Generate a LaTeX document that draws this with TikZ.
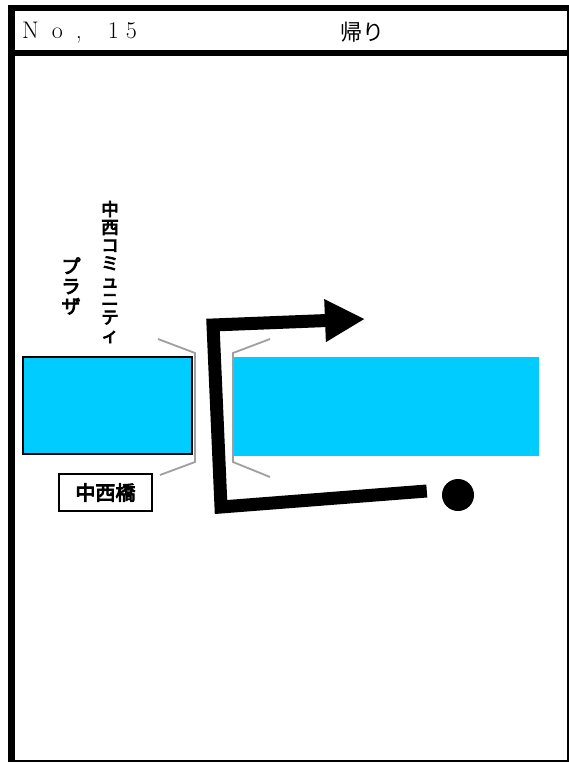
\documentclass[tikz,border=0pt]{standalone}
\usepackage{fontspec}
\usepackage{tikz}
\usetikzlibrary{arrows.meta}
\newfontfamily\cjk{Noto Sans CJK JP}
\newfontfamily\cjkbold[FakeBold=4.5]{Noto Sans CJK JP}
\definecolor{river}{RGB}{0,204,255}
\tikzset{
  frameline/.style={line width=#1},
  riverbox/.style={fill=river},
  bridge/.style={gray!75,line width=1.8pt},
  route/.style={line width=13pt,line join=miter},
  vlabel/.style={font=\cjkbold\fontsize{17.5}{18}\selectfont,align=center,inner sep=0pt}
}

\begin{document}
\begin{tikzpicture}[x=1pt,y=-1pt]
\useasboundingbox (0,0) rectangle (569,763);
\fill[white] (0,0) rectangle (569,763);
% frame
\draw[frameline=6pt] (8,8)--(569,8);
\draw[frameline=6pt] (8,53)--(569,53);
\draw[frameline=7pt] (11.5,5)--(11.5,762);
\draw[frameline=2pt] (568,5)--(568,762);
\draw[frameline=2pt] (8,761)--(569,761);
\node[anchor=base west,inner sep=0pt,font=\fontsize{24}{24}\selectfont] (no) at (22,38)
  {N\hspace{13pt}o\hspace{13pt},\hspace{26pt}1\hspace{7pt}5};
\node[font=\cjk\fontsize{22}{22}\selectfont] (title) at (362,32) {帰り};
% river
\draw[riverbox,line width=1.3pt] (23,357) rectangle (192,454);
\fill[river] (234,357) rectangle (539,456);
% bridge
\draw[bridge] (158,339)--(195,353)--(195,462)--(160,475);
\draw[bridge] (270,339)--(233,353)--(233,462)--(270,477);
% labels
\node[vlabel] (plaza1) at (110,272) {中\\西\\コ\\ミ\\ュ\\ニ\\テ\\ィ};
\node[vlabel,font=\cjkbold\fontsize{19}{20}\selectfont] (plaza2) at (71,286) {プ\\ラ\\ザ};
\node[draw,line width=1.2pt,minimum width=93pt,minimum height=37pt,inner sep=0pt,
  font=\cjkbold\fontsize{20}{20}\selectfont] (hashi) at (105.5,492.5) {中西橋};
% route
\node[circle,fill,minimum size=32pt,inner sep=0pt] (start) at (458,495) {};
\coordinate (c1) at (221,507);
\coordinate (c2) at (213,325);
\coordinate (goal) at (365,319);
\draw[route,-{Triangle[length=40pt,width=40pt]}] ([xshift=-15pt,yshift=4pt]start.west)--(c1)--(c2)--(goal);
\end{tikzpicture}
\end{document}
